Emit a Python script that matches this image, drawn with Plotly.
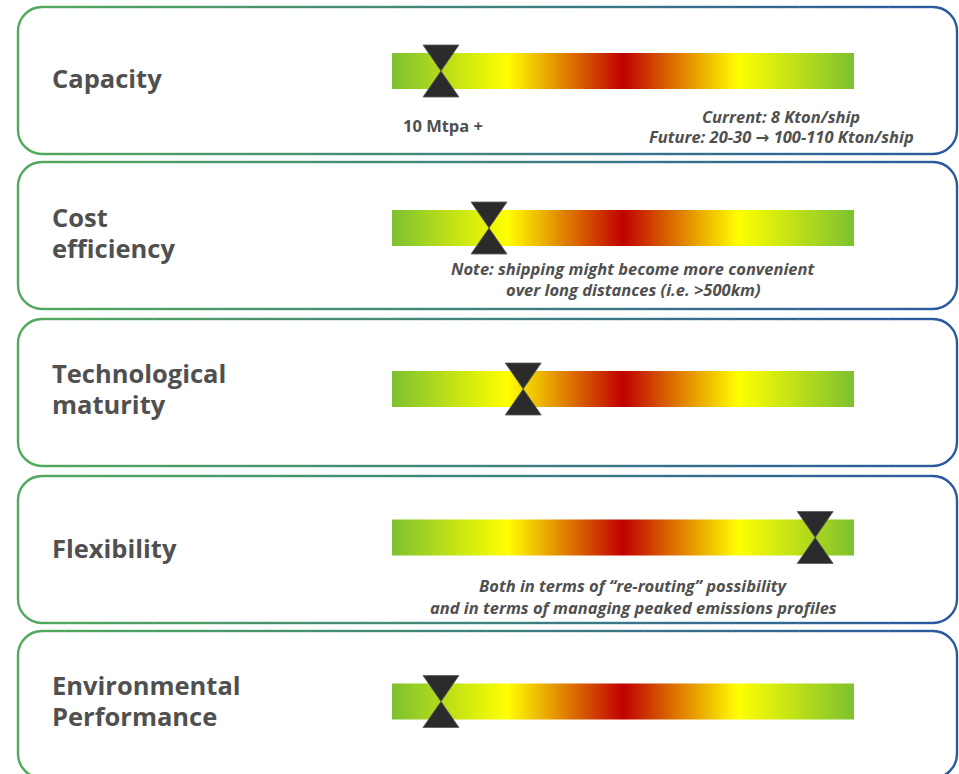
import numpy as np
import plotly.graph_objects as go

# ---- data -------------------------------------------------------------
CRITERIA = ["Capacity", "Cost\nefficiency", "Technological\nmaturity",
            "Flexibility", "Environmental\nPerformance"]
# marker position along the assessment scale (0 = left end, 1 = right end)
SCORES = [0.106, 0.21, 0.284, 0.916, 0.106]
# scale colours from left to right
SCALE_STOPS = [0.0, 0.25, 0.5, 0.75, 1.0]
SCALE_COLORS = ["#7dc12f", "#ffff00", "#c00000", "#ffff00", "#7dc12f"]

# ---- layout constants (pixels) -----------------------------------------
W, H = 959, 774
BOX_X0, BOX_X1, BOX_R = 18, 957, 24
BOX_TOP = [7, 162, 319, 476, 631]
BOX_H = 147
BAR_X0, BAR_X1 = 392, 854
BAR_CY = [71, 228, 389, 537.5, 701.5]
BAR_H = 36
MARK_HALF_W, MARK_HALF_H = 18, 26
LABEL_CY = [78, 232.5, 388.5, 548, 700.5]
LINE_GAP = 31
GREEN = np.array([82, 170, 90])
BLUE = np.array([42, 88, 160])
TEXT = "#505050"
FONT = "Open Sans"
ARROW = "<span style=\"font-family:'DejaVu Sans'\">\u2192</span>"

fig = go.Figure()

# gradient scale bars
n = 400
xc = (np.arange(n) + 0.5) / n
colorscale = [[s, c] for s, c in zip(SCALE_STOPS, SCALE_COLORS)]
for cy in BAR_CY:
    fig.add_trace(go.Heatmap(
        x=xc, y=[cy - BAR_H / 4, cy + BAR_H / 4], z=[xc, xc],
        colorscale=colorscale, zmin=0, zmax=1, showscale=False,
        hoverinfo="skip"))

# hourglass markers at each score
hw = MARK_HALF_W / (BAR_X1 - BAR_X0)
for v, cy in zip(SCORES, BAR_CY):
    top, bot = cy - MARK_HALF_H, cy + MARK_HALF_H
    fig.add_trace(go.Scatter(
        x=[v - hw, v + hw, v - hw, v + hw, v - hw],
        y=[top, top, bot, bot, top],
        mode="lines", fill="toself", fillcolor="#2b2b2b",
        line=dict(color="#5a5a5a", width=0.8),
        hoverinfo="skip", showlegend=False))

# rounded box outlines with a green-to-blue stroke
def px(x):
    return x / W

def col(x):
    t = (x - BOX_X0) / (BOX_X1 - BOX_X0)
    c = GREEN + (BLUE - GREEN) * t
    return "rgb(%d,%d,%d)" % tuple(np.round(c))

k = 0.5523 * BOX_R
shapes = []
lw = 2.4
for top in BOX_TOP:
    bot = top + BOX_H
    x0, x1, r = BOX_X0, BOX_X1, BOX_R
    left = (f"M {px(x0 + r)},{top} C {px(x0 + r - k)},{top} {px(x0)},{top + r - k} {px(x0)},{top + r} "
            f"L {px(x0)},{bot - r} C {px(x0)},{bot - r + k} {px(x0 + r - k)},{bot} {px(x0 + r)},{bot}")
    right = (f"M {px(x1 - r)},{top} C {px(x1 - r + k)},{top} {px(x1)},{top + r - k} {px(x1)},{top + r} "
             f"L {px(x1)},{bot - r} C {px(x1)},{bot - r + k} {px(x1 - r + k)},{bot} {px(x1 - r)},{bot}")
    shapes.append(dict(type="path", path=left, xref="paper", yref="y",
                       line=dict(color=col(x0 + r / 2), width=lw), layer="below"))
    shapes.append(dict(type="path", path=right, xref="paper", yref="y",
                       line=dict(color=col(x1 - r / 2), width=lw), layer="below"))
    edges = np.linspace(x0 + r, x1 - r, 41)
    for a, b in zip(edges[:-1], edges[1:]):
        for yy in (top, bot):
            shapes.append(dict(type="line", xref="paper", yref="y",
                               x0=px(a), x1=px(b + 0.3), y0=yy, y1=yy,
                               line=dict(color=col((a + b) / 2), width=lw),
                               layer="below"))

# criterion labels
annotations = []
for label, cy in zip(CRITERIA, LABEL_CY):
    lines = label.split("\n")
    offs = (np.arange(len(lines)) - (len(lines) - 1) / 2) * LINE_GAP
    for line, o in zip(lines, offs):
        annotations.append(dict(
            x=px(50), xref="paper", y=cy + o, yref="y", text=f"<b>{line}</b>",
            showarrow=False, xanchor="left", yanchor="middle",
            font=dict(family=FONT, size=25.5, color=TEXT)))

# notes under the scales
NOTES = [
    (443, 125, "<b>10 Mtpa +</b>"),
    (781, 116, "<b><i>Current: 8 Kton/ship</i></b>"),
    (781, 136, f"<b><i>Future: 20-30 {ARROW} 100-110 Kton/ship</i></b>"),
    (633, 268, "<b><i>Note: shipping might become more convenient</i></b>"),
    (633, 289, "<b><i>over long distances (i.e. &gt;500km)</i></b>"),
    (633, 585, "<b><i>Both in terms of \u201cre-routing\u201d possibility</i></b>"),
    (633, 607, "<b><i>and in terms of managing peaked emissions profiles</i></b>"),
]
for x, y, t in NOTES:
    annotations.append(dict(
        x=px(x), xref="paper", y=y, yref="y", text=t, showarrow=False,
        xanchor="center", yanchor="middle",
        font=dict(family=FONT, size=16.5, color=TEXT)))

fig.update_layout(
    width=W, height=H, margin=dict(l=0, r=0, t=0, b=0),
    paper_bgcolor="white", plot_bgcolor="white",
    xaxis=dict(domain=[BAR_X0 / W, BAR_X1 / W], range=[0, 1], visible=False,
               fixedrange=True),
    yaxis=dict(domain=[0, 1], range=[H, 0], visible=False, fixedrange=True),
    shapes=shapes, annotations=annotations, showlegend=False,
)

fig.write_html("out.html")
